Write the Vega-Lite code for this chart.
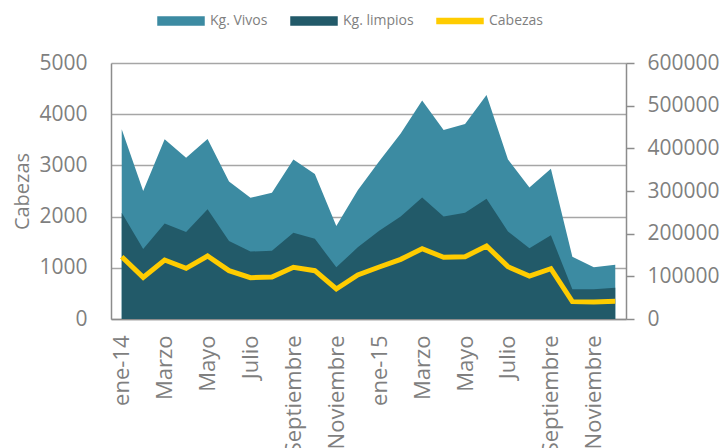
{
  "$schema": "https://vega.github.io/schema/vega-lite/v6.json",
  "width": 515,
  "height": 256,
  "autosize": {"type": "none"},
  "padding": {"left": 111, "top": 63, "right": 99, "bottom": 129},
  "config": {
    "view": {"stroke": null},
    "font": "Open Sans",
    "axis": {
      "labelColor": "#7f7f7f",
      "titleColor": "#7f7f7f",
      "labelFont": "Open Sans",
      "titleFont": "Open Sans",
      "domainColor": "#8c8c8c",
      "domainWidth": 1.5,
      "tickColor": "#8c8c8c",
      "tickWidth": 1.5,
      "gridColor": "#a6a6a6",
      "gridWidth": 1.5
    }
  },
  "data": {
    "values": [
      {"m": "ene-14", "vivos": 445000, "limpios": 249000, "cab": 1215},
      {"m": "feb-14", "vivos": 300000, "limpios": 164000, "cab": 814},
      {"m": "Marzo-14", "vivos": 421000, "limpios": 224000, "cab": 1152},
      {"m": "abr-14", "vivos": 378000, "limpios": 204000, "cab": 990},
      {"m": "Mayo-14", "vivos": 422000, "limpios": 257000, "cab": 1230},
      {"m": "jun-14", "vivos": 322000, "limpios": 183000, "cab": 944},
      {"m": "Julio-14", "vivos": 284000, "limpios": 158000, "cab": 807},
      {"m": "ago-14", "vivos": 296000, "limpios": 160000, "cab": 820},
      {"m": "Septiembre-14", "vivos": 374000, "limpios": 202000, "cab": 1010},
      {"m": "oct-14", "vivos": 340000, "limpios": 188000, "cab": 944},
      {"m": "Noviembre-14", "vivos": 218000, "limpios": 121000, "cab": 586},
      {"m": "dic-14", "vivos": 302000, "limpios": 168000, "cab": 859},
      {"m": "ene-15", "vivos": 370000, "limpios": 207000, "cab": 1016},
      {"m": "feb-15", "vivos": 435000, "limpios": 240000, "cab": 1165},
      {"m": "Marzo-15", "vivos": 512000, "limpios": 285000, "cab": 1374},
      {"m": "abr-15", "vivos": 443000, "limpios": 240000, "cab": 1204},
      {"m": "Mayo-15", "vivos": 457000, "limpios": 249000, "cab": 1217},
      {"m": "jun-15", "vivos": 525000, "limpios": 282000, "cab": 1426},
      {"m": "Julio-15", "vivos": 374000, "limpios": 205000, "cab": 1022},
      {"m": "ago-15", "vivos": 308000, "limpios": 166000, "cab": 840},
      {"m": "Septiembre-15", "vivos": 352000, "limpios": 196000, "cab": 983},
      {"m": "oct-15", "vivos": 146000, "limpios": 70000, "cab": 339},
      {"m": "Noviembre-15", "vivos": 121000, "limpios": 70000, "cab": 332},
      {"m": "dic-15", "vivos": 127000, "limpios": 73000, "cab": 345}
    ]
  },
  "encoding": {
    "x": {
      "field": "m",
      "type": "ordinal",
      "sort": null,
      "scale": {"type": "point", "padding": 0.5},
      "axis": {
        "title": null,
        "values": ["ene-14", "Marzo-14", "Mayo-14", "Julio-14", "Septiembre-14", "Noviembre-14", "ene-15", "Marzo-15", "Mayo-15", "Julio-15", "Septiembre-15", "Noviembre-15"],
        "labelExpr": "(datum.value == 'ene-14' || datum.value == 'ene-15') ? datum.value : split(datum.value, '-')[0]",
        "labelAngle": -90,
        "labelFontSize": 22,
        "labelPadding": 16,
        "ticks": false,
        "grid": false,
        "labelOverlap": false
      }
    }
  },
  "layer": [
    {
      "layer": [
        {
          "mark": {"type": "area"},
          "encoding": {
            "y": {
              "field": "vivos",
              "type": "quantitative",
              "scale": {"domain": [0, 600000]},
              "axis": {
                "orient": "right",
                "title": null,
                "grid": false,
                "values": [0, 100000, 200000, 300000, 400000, 500000, 600000],
                "format": "d",
                "labelFontSize": 21,
                "labelOverlap": false,
                "tickSize": 8,
                "labelPadding": 13
              }
            },
            "color": {
              "datum": "Kg. Vivos",
              "scale": {"domain": ["Kg. Vivos", "Kg. limpios", "Cabezas"], "range": ["#3c8ba2", "#225a69", "#ffcc00"]},
              "legend": {
                "orient": "none",
                "legendX": 46,
                "legendY": -66,
                "direction": "horizontal",
                "title": null,
                "symbolType": "M-1,-0.17L1,-0.17L1,0.17L-1,0.17Z",
                "symbolSize": 2116,
                "labelFontSize": 14,
                "labelFont": "Open Sans",
                "labelColor": "#7f7f7f",
                "columnPadding": 20,
                "labelOffset": 5,
                "encode": {
                  "symbols": {
                    "update": {
                      "shape": {"signal": "datum.value === 'Cabezas' ? 'M-1,-0.11L1,-0.11L1,0.11L-1,0.11Z' : 'M-1,-0.17L1,-0.17L1,0.17L-1,0.17Z'"},
                      "fill": {"scale": "color", "field": "value"},
                      "stroke": {"value": "transparent"},
                      "opacity": {"value": 1}
                    }
                  }
                }
              }
            }
          }
        },
        {
          "mark": {"type": "area"},
          "encoding": {
            "y": {"field": "limpios", "type": "quantitative"},
            "color": {"datum": "Kg. limpios"}
          }
        }
      ]
    },
    {
      "mark": {"type": "line", "strokeWidth": 5},
      "encoding": {
        "y": {
          "field": "cab",
          "type": "quantitative",
          "scale": {"domain": [0, 5000]},
          "axis": {
            "orient": "left",
            "title": "Cabezas",
            "titleFontSize": 20,
            "titleFontWeight": "normal",
            "titlePadding": 6,
            "values": [0, 1000, 2000, 3000, 4000, 5000],
            "format": "d",
            "grid": true,
            "ticks": false,
            "labelFontSize": 21,
            "labelPadding": 24
          }
        },
        "color": {"datum": "Cabezas"}
      }
    }
  ],
  "resolve": {"scale": {"y": "independent"}}
}
